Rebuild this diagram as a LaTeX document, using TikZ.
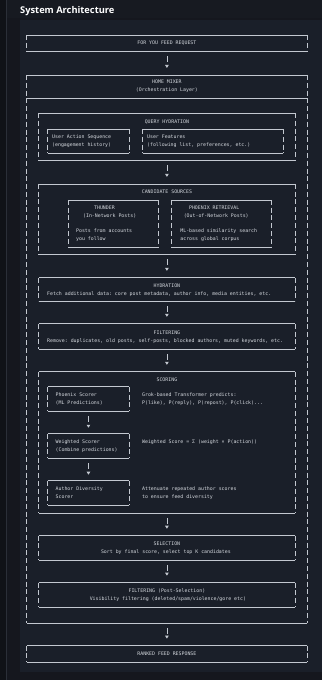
\documentclass[tikz,border=0pt]{standalone}
\usepackage{fontspec}
\setmainfont{Open Sans}
\setmonofont{DejaVu Sans Mono}
\usetikzlibrary{arrows.meta}

\definecolor{stripbg}{HTML}{101217}
\definecolor{pagebg}{HTML}{15171E}
\definecolor{titlebg}{HTML}{171A21}
\definecolor{panelbg}{HTML}{1A1F29}
\definecolor{edgec}{HTML}{2B2F38}
\definecolor{linec}{HTML}{C3C8D0}
\definecolor{textc}{HTML}{D4D8DE}

\begin{document}
\begin{tikzpicture}[x=1pt,y=-1pt,
  hline/.style={draw=linec, line width=0.7pt},
  vline/.style={draw=linec, line width=0.7pt, dash pattern=on 5pt off 2.8pt},
  frame/.style={inner sep=0pt, append after command={
      (\tikzlastnode.north west) edge[hline] (\tikzlastnode.north east)
      (\tikzlastnode.south west) edge[hline] (\tikzlastnode.south east)
      (\tikzlastnode.north west) edge[vline] (\tikzlastnode.south west)
      (\tikzlastnode.north east) edge[vline] (\tikzlastnode.south east)}},
  lbl/.style={text=textc, font=\ttfamily\fontsize{4.9}{5}\selectfont, inner sep=0pt, text height=3.6pt, text depth=0pt},
  txt/.style={lbl, anchor=west},
  flow/.style={draw=linec, line width=0.7pt, dash pattern=on 6pt off 3pt,
      -{Triangle[length=3pt,width=3.5pt]}, shorten <=5pt, shorten >=7pt}]
  % Background
  \fill[stripbg] (0,0) rectangle (322,680);
  \fill[pagebg] (7,0) rectangle (322,680);
  \draw[edgec] (6.5,0) -- (6.5,680);
  \fill[titlebg] (7,0) rectangle (322,18);
  \fill[panelbg] (20,20) rectangle (322,672);
  \useasboundingbox (0,0) rectangle (322,680);

  % Title
  \node[font=\bfseries\fontsize{9.3}{11}\selectfont, text=white, anchor=west, inner sep=0pt] (title) at (20,11) {System Architecture};

  % Boxes
  \node[frame, minimum width=280pt, minimum height=16pt] (fyfr) at (167,43) {};
  \node[frame, minimum width=280pt, minimum height=548pt] (homemixer) at (167,349) {};
  \node[frame, minimum width=256pt, minimum height=47pt] (queryhyd) at (167,136.5) {};
  \node[frame, minimum width=81pt, minimum height=24pt] (useraction) at (88.5,141) {};
  \node[frame, minimum width=140pt, minimum height=24pt] (userfeat) at (213,141) {};
  \node[frame, minimum width=256pt, minimum height=70pt] (candsrc) at (167,219) {};
  \node[frame, minimum width=89pt, minimum height=47pt] (thunder) at (113.5,223.5) {};
  \node[frame, minimum width=99pt, minimum height=47pt] (phoenixret) at (221.5,223.5) {};
  \node[frame, minimum width=256pt, minimum height=23pt] (hydration) at (167,289.5) {};
  \node[frame, minimum width=256pt, minimum height=25pt] (filtering) at (167,336.5) {};
  \node[frame, minimum width=256pt, minimum height=141pt] (scoring) at (167,442.5) {};
  \node[frame, minimum width=81pt, minimum height=24pt] (phoenixsc) at (88.5,399) {};
  \node[frame, minimum width=81pt, minimum height=24pt] (weightsc) at (88.5,446) {};
  \node[frame, minimum width=81pt, minimum height=24pt] (authorsc) at (88.5,493) {};
  \node[frame, minimum width=256pt, minimum height=24pt] (selection) at (167,548) {};
  \node[frame, minimum width=256pt, minimum height=24pt] (postfilt) at (167,595) {};
  \node[frame, minimum width=280pt, minimum height=16pt] (ranked) at (167,654) {};

  % Home mixer header rule
  \draw[hline] ([yshift=-23pt]homemixer.north west) -- ([yshift=-23pt]homemixer.north east);

  % Request and home mixer
  \node[lbl] (t-fyfr) at (167,43) {FOR YOU FEED REQUEST};
  \node[lbl] (t-hm1) at (167,82) {HOME MIXER};
  \node[lbl] (t-hm2) at (167,90) {(Orchestration Layer)};

  % Query hydration
  \node[lbl] (t-qh) at (167,122) {QUERY HYDRATION};
  \node[txt] (t-ua1) at (52,137) {User Action Sequence};
  \node[txt] (t-ua2) at (52,145) {(engagement history)};
  \node[txt] (t-uf1) at (147,137) {User Features};
  \node[txt] (t-uf2) at (147,145) {(following list, preferences, etc.)};

  % Candidate sources
  \node[lbl] (t-cs) at (167,192) {CANDIDATE SOURCES};
  \node[txt] (t-th1) at (94,208) {THUNDER};
  \node[txt] (t-th2) at (83,215.5) {(In-Network Posts)};
  \node[txt] (t-th3) at (76,231) {Posts from accounts};
  \node[txt] (t-th4) at (76,239) {you follow};
  \node[txt] (t-pr1) at (189,208) {PHOENIX RETRIEVAL};
  \node[txt] (t-pr2) at (183.7,215.5) {(Out-of-Network Posts)};
  \node[txt] (t-pr3) at (180.3,231) {ML-based similarity search};
  \node[txt] (t-pr4) at (180.3,239) {across global corpus};

  % Hydration and filtering
  \node[lbl] (t-hy1) at (167,286) {HYDRATION};
  \node[txt] (t-hy2) at (47,293.5) {Fetch additional data: core post metadata, author info, media entities, etc.};
  \node[lbl] (t-fi1) at (167,333) {FILTERING};
  \node[txt] (t-fi2) at (47,341) {Remove: duplicates, old posts, self-posts, blocked authors, muted keywords, etc.};

  % Scoring
  \node[lbl] (t-sc) at (167,380) {SCORING};
  \node[txt] (t-ps1) at (55.5,395) {Phoenix Scorer};
  \node[txt] (t-ps2) at (55.5,403) {(ML Predictions)};
  \node[txt] (t-ps3) at (142,395) {Grok-based Transformer predicts:};
  \node[txt] (t-ps4) at (142,403) {P(like), P(reply), P(repost), P(click)...};
  \node[txt] (t-ws1) at (55.5,442) {Weighted Scorer};
  \node[txt] (t-ws2) at (55.5,450) {(Combine predictions)};
  \node[txt] (t-ws3) at (142,442) {Weighted Score = Σ (weight × P(action))};
  \node[txt] (t-as1) at (55.5,489) {Author Diversity};
  \node[txt] (t-as2) at (55.5,497) {Scorer};
  \node[txt] (t-as3) at (142,489) {Attenuate repeated author scores};
  \node[txt] (t-as4) at (142,497) {to ensure feed diversity};

  % Selection and post filtering
  \node[lbl] (t-se1) at (167,544) {SELECTION};
  \node[lbl] (t-se2) at (166,552) {Sort by final score, select top K candidates};
  \node[lbl] (t-pf1) at (167,591) {FILTERING (Post-Selection)};
  \node[lbl] (t-pf2) at (168,599) {Visibility filtering (deleted/spam/violence/gore etc)};

  % Response
  \node[lbl] (t-rk) at (167,654) {RANKED FEED RESPONSE};

  % Flow arrows
  \draw[flow] (fyfr) -- (homemixer);
  \draw[flow] (queryhyd) -- (candsrc);
  \draw[flow] (candsrc) -- (hydration);
  \draw[flow] (hydration) -- (filtering);
  \draw[flow] (filtering) -- (scoring);
  \draw[flow, shorten >=6pt] (phoenixsc) -- (weightsc);
  \draw[flow, shorten >=6pt] (weightsc) -- (authorsc);
  \draw[flow] (scoring) -- (selection);
  \draw[flow] (selection) -- (postfilt);
  \draw[flow] (homemixer.south) -- (ranked);
\end{tikzpicture}
\end{document}
